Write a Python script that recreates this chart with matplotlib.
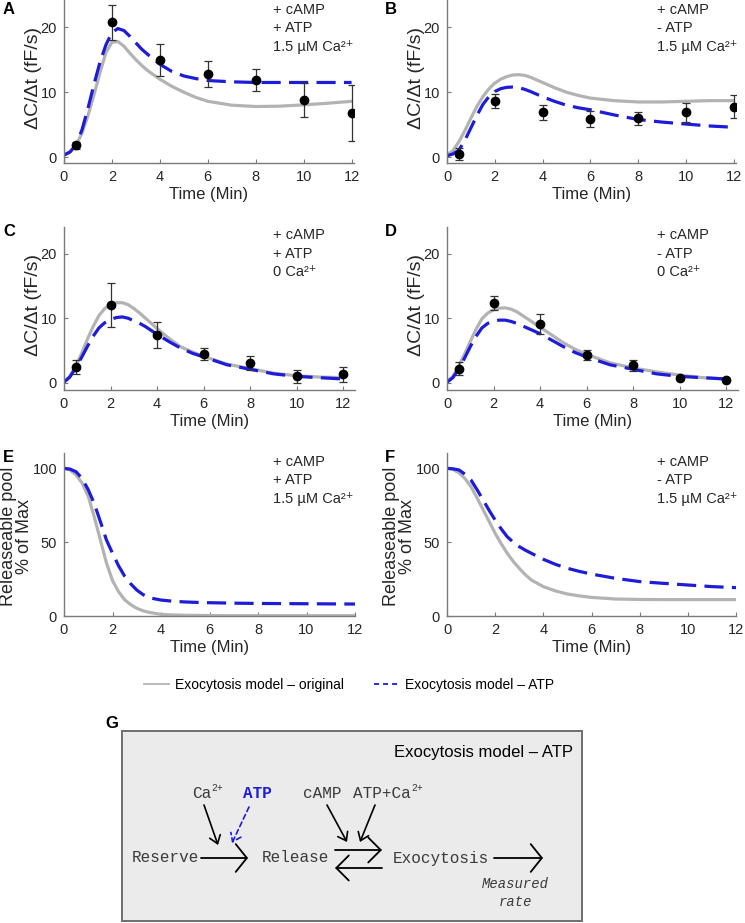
import matplotlib
matplotlib.use('Agg')
from matplotlib import pyplot as plt
from matplotlib.lines import Line2D
from matplotlib.patches import Rectangle

plt.rcParams['font.family'] = ['Liberation Sans', 'DejaVu Sans']

W, H = 745, 923

# model time grid and measurement times (min)
t_model = [0, 0.25, 0.5, 0.75, 1, 1.25, 1.5, 1.75, 2, 2.25, 2.5, 2.75, 3, 3.25, 3.5,
           4, 4.5, 5, 5.5, 6, 7, 8, 9, 10, 11, 12]
t_data = [0.5, 2, 4, 6, 8, 10, 12]

# dC/dt (fF/s), original model (gray) and ATP model (blue dashed)
a_orig = [0.4, 0.8, 1.8, 3.7, 6.4, 9.6, 13.0, 16.1, 17.7, 17.8, 17.1, 16.0, 15.0, 14.1, 13.3,
          12.0, 10.9, 10.0, 9.2, 8.6, 8.0, 7.8, 7.85, 8.05, 8.3, 8.6]
a_atp = [0.3, 0.8, 1.9, 4.2, 7.5, 11.2, 14.6, 17.3, 19.2, 19.8, 19.5, 18.6, 17.6, 16.6, 15.8,
         14.3, 13.2, 12.5, 12.1, 11.8, 11.6, 11.5, 11.5, 11.5, 11.5, 11.5]
a_mean = [1.8, 20.8, 15.0, 12.8, 11.9, 8.8, 6.8]
a_err = [0.5, 2.7, 2.5, 2.0, 1.7, 2.6, 4.3]

b_orig = [0.35, 1.0, 2.4, 4.1, 6.0, 7.8, 9.3, 10.5, 11.4, 12.0, 12.4, 12.65, 12.7, 12.6, 12.3,
          11.5, 10.7, 10.0, 9.5, 9.1, 8.7, 8.5, 8.5, 8.6, 8.7, 8.7]
b_atp = [0.2, 0.5, 1.1, 2.6, 4.5, 6.4, 8.1, 9.3, 10.1, 10.55, 10.75, 10.8, 10.7, 10.45, 10.1,
         9.3, 8.6, 8.0, 7.6, 7.3, 6.5, 5.8, 5.4, 5.1, 4.8, 4.6]
b_mean = [0.5, 8.7, 6.9, 5.9, 6.0, 6.9, 7.8]
b_err = [0.9, 1.1, 1.2, 1.2, 1.0, 1.5, 1.8]

c_orig = [0.25, 1.0, 2.6, 4.5, 6.7, 8.7, 10.4, 11.5, 12.1, 12.4, 12.4, 12.1, 11.5, 10.8, 10.0,
          8.4, 6.9, 5.6, 4.8, 4.1, 2.9, 2.2, 1.5, 1.1, 0.9, 0.8]
c_atp = [0.1, 0.9, 2.3, 3.9, 5.6, 7.2, 8.5, 9.3, 9.8, 10.1, 10.2, 10.0, 9.6, 9.2, 8.7,
         7.5, 6.4, 5.4, 4.6, 4.0, 2.8, 2.1, 1.4, 1.0, 0.8, 0.6]
c_mean = [2.5, 12.0, 7.4, 4.5, 3.1, 1.0, 1.3]
c_err = [1.1, 3.4, 2.0, 0.9, 1.1, 1.0, 1.1]

d_orig = [0.25, 1.0, 2.6, 4.4, 6.4, 8.3, 9.9, 10.8, 11.3, 11.55, 11.6, 11.4, 11.0, 10.4, 9.8,
          8.6, 7.4, 6.2, 5.2, 4.4, 3.1, 2.3, 1.7, 1.2, 0.8, 0.6]
d_atp = [0.1, 0.8, 2.1, 3.8, 5.6, 7.2, 8.5, 9.2, 9.55, 9.7, 9.7, 9.5, 9.2, 8.8, 8.4,
         7.6, 6.6, 5.6, 4.7, 4.0, 2.8, 2.1, 1.4, 1.0, 0.8, 0.6]
d_mean = [2.2, 12.3, 9.1, 4.3, 2.7, 0.7, 0.5]
d_err = [1.0, 1.1, 1.5, 0.8, 0.8, 0.2, 0.2]

# releaseable pool, % of max
e_orig = [100, 98.9, 95.5, 90, 81, 67, 51.5, 36, 24, 16.5, 11, 7.7, 5.2, 3.6, 2.5,
          1.1, 0.7, 0.5, 0.4, 0.3, 0.2, 0.2, 0.2, 0.2, 0.2, 0.2]
e_atp = [100, 99.5, 97.7, 93, 85.5, 76, 64, 51.5, 42.5, 34, 27, 21.8, 17.6, 14.6, 12.4,
         10.8, 10.0, 9.5, 9.2, 9.0, 8.7, 8.5, 8.4, 8.3, 8.2, 8.1]
f_orig = [100, 99.2, 97, 93, 87.5, 80, 72, 64, 56, 49, 42.5, 37, 32.3, 28, 24.4,
          19.9, 17, 14.9, 13.6, 12.6, 11.5, 11.2, 11.1, 11.1, 11.1, 11.1]
f_atp = [100, 99.7, 98.9, 96, 92, 85.5, 78.6, 71.5, 65, 59, 53.7, 50, 47, 44.6, 42.5,
         38.4, 35, 32.3, 30.2, 28.4, 25.5, 23.3, 22.1, 21, 19.9, 19.2]

GRAY = '#b3b3b3'
BLUE = '#1c1cd9'
AXC = '#7a7a7a'
TXT = '#262626'

fig = plt.figure(figsize=(W / 100, H / 100), dpi=100)


def px_axes(left, right, top, bottom):
    return fig.add_axes([left / W, 1 - bottom / H, (right - left) / W, (bottom - top) / H])


def style(ax, xmax, ylim, yticks):
    for s in ['top', 'right']:
        ax.spines[s].set_visible(False)
    for s in ['left', 'bottom']:
        ax.spines[s].set_color(AXC)
        ax.spines[s].set_linewidth(1.0)
    ax.set_xlim(0, xmax)
    ax.set_ylim(*ylim)
    ax.set_xticks(range(0, 13, 2))
    ax.set_yticks(yticks)
    ax.tick_params(direction='in', length=3, width=0.8, colors=AXC, labelcolor=TXT,
                   labelsize=10.5, pad=5)
    ax.patch.set_alpha(0)


def curves(ax, orig, atp):
    ax.plot(t_model, orig, color=GRAY, lw=2.3, solid_capstyle='round', solid_joinstyle='round')
    ax.plot(t_model, atp, color=BLUE, lw=2.3, dashes=(6, 2.6))


rate_panels = [
    ((64, 354, 0, 163), 12.1, (-0.9, 24.2), a_orig, a_atp, a_mean, a_err),
    ((447, 736, 0, 163), 12.1, (-0.9, 24.2), b_orig, b_atp, b_mean, b_err),
    ((64, 355, 227, 390), 12.5, (-1.1, 24.1), c_orig, c_atp, c_mean, c_err),
    ((447, 738, 227, 390), 12.5, (-1.1, 24.1), d_orig, d_atp, d_mean, d_err),
]

for rect, xmax, ylim, orig, atp, mean, err in rate_panels:
    ax = px_axes(*rect)
    style(ax, xmax, ylim, [0, 10, 20])
    curves(ax, orig, atp)
    ax.errorbar(t_data, mean, yerr=err, fmt='o', color='black', ms=6, ecolor='#333333',
                elinewidth=0.9, capsize=2.8, capthick=0.9, zorder=5)
    ax.set_xlabel('Time (Min)', fontsize=12, color=TXT)
    ax.set_ylabel('\u0394C/\u0394t (fF/s)', fontsize=14, color=TXT)
    ax.xaxis.set_label_coords(0.5, -0.145)
    ax.yaxis.set_label_coords(-0.076, 0.52)

pool_panels = [
    ((64, 355, 453, 616), e_orig, e_atp),
    ((447, 736, 453, 616), f_orig, f_atp),
]

for rect, orig, atp in pool_panels:
    ax = px_axes(*rect)
    style(ax, 12, (0, 110.4), [0, 50, 100])
    curves(ax, orig, atp)
    ax.set_xlabel('Time (Min)', fontsize=12, color=TXT)
    ax.set_ylabel('Releaseable pool\n% of Max', fontsize=13, color=TXT, linespacing=0.95)
    ax.xaxis.set_label_coords(0.5, -0.145)
    ax.yaxis.set_label_coords(-0.106, 0.49)

# overlay in pixel coordinates for labels and the scheme
ov = fig.add_axes([0, 0, 1, 1], zorder=10)
ov.set_xlim(0, W)
ov.set_ylim(H, 0)
ov.axis('off')

letters = [('A', 3, 10), ('B', 385, 10), ('C', 3, 232), ('D', 385, 232), ('E', 3, 457), ('F', 385, 457)]
for s, x, y in letters:
    ov.text(x, y, s, fontsize=12, fontweight='bold', va='center', ha='left')

conds = [
    (273, 10, ['+ cAMP', '+ ATP', '1.5 \u00b5M Ca\u00b2\u207a']),
    (657, 10, ['+ cAMP', '- ATP', '1.5 \u00b5M Ca\u00b2\u207a']),
    (273, 235, ['+ cAMP', '+ ATP', '0 Ca\u00b2\u207a']),
    (657, 235, ['+ cAMP', '- ATP', '0 Ca\u00b2\u207a']),
    (273, 462, ['+ cAMP', '+ ATP', '1.5 \u00b5M Ca\u00b2\u207a']),
    (657, 462, ['+ cAMP', '- ATP', '1.5 \u00b5M Ca\u00b2\u207a']),
]
for x, y, lines in conds:
    for i, s in enumerate(lines):
        ov.text(x, y + 18.5 * i, s, fontsize=10.5, color=TXT, va='center', ha='left')

handles = [Line2D([], [], color=GRAY, lw=1.3),
           Line2D([], [], color=BLUE, lw=1.3, dashes=(2.8, 2.2))]
fig.legend(handles, ['Exocytosis model \u2013 original', 'Exocytosis model \u2013 ATP'],
           loc='center', bbox_to_anchor=(349 / W, 1 - 685 / H), ncol=2, frameon=False,
           fontsize=10, handlelength=1.8, handletextpad=0.4, columnspacing=2.2)

# panel G scheme
ov.text(105, 723, 'G', fontsize=12, fontweight='bold', va='center', ha='left')
ov.add_patch(Rectangle((122, 731), 460, 190, facecolor='#ebebeb', edgecolor='#6e6e6e', lw=1.4))
ov.text(573, 753, 'Exocytosis model \u2013 ATP', fontsize=12, color='black', ha='right', va='center')

mono = ['Liberation Mono', 'DejaVu Sans Mono']
GTXT = '#3a3a3a'
CH = 0.6 * 11.5 * 100 / 72  # mono character width in px


def mono_text(x, y, s, sup=None, **kw):
    ov.text(x, y, s, family=mono, fontsize=11.5, ha='left', va='center', **kw)
    if sup:
        ov.text(x + len(s) * CH + 0.5, y - 5, sup, family=mono, fontsize=7, ha='left',
                va='center', **kw)


mono_text(192, 793, 'Ca', '2+', color=GTXT)
mono_text(243, 793, 'ATP', color=BLUE, fontweight='bold')
mono_text(303, 793, 'cAMP', color=GTXT)
mono_text(353, 793, 'ATP+Ca', '2+', color=GTXT)
mono_text(132, 858, 'Reserve', color=GTXT)
mono_text(262, 858, 'Release', color=GTXT)
mono_text(393, 858, 'Exocytosis', color=GTXT)
ov.text(515, 884, 'Measured', family=mono, fontsize=10, style='italic', color=GTXT, ha='center', va='center')
ov.text(515, 902, 'rate', family=mono, fontsize=10, style='italic', color=GTXT, ha='center', va='center')

big = dict(arrowstyle='->,head_length=0.8,head_width=1.0', color='black', lw=1.3,
           shrinkA=0, shrinkB=0, mutation_scale=10)
dbl = dict(arrowstyle='->,head_length=0.9,head_width=0.9', color='black', lw=1.3,
           shrinkA=0, shrinkB=0, mutation_scale=10)
small = dict(arrowstyle='->,head_length=0.55,head_width=0.4', color='black', lw=1.2,
             shrinkA=0, shrinkB=0, mutation_scale=10)

ov.annotate('', xy=(248, 858), xytext=(201, 858), arrowprops=big)
ov.annotate('', xy=(543, 858), xytext=(494, 858), arrowprops=big)
ov.annotate('', xy=(382, 850), xytext=(335, 850), arrowprops=dbl)
ov.annotate('', xy=(335, 868), xytext=(382, 868), arrowprops=dbl)
ov.annotate('', xy=(218, 845), xytext=(204, 805), arrowprops=small)
ov.annotate('', xy=(347, 842), xytext=(327, 805), arrowprops=small)
ov.annotate('', xy=(360, 842), xytext=(375, 805), arrowprops=small)
ov.annotate('', xy=(232, 843), xytext=(249, 807),
            arrowprops=dict(small, color=BLUE, linestyle=(0, (3, 2))))

fig.savefig('out.png', dpi=100)
